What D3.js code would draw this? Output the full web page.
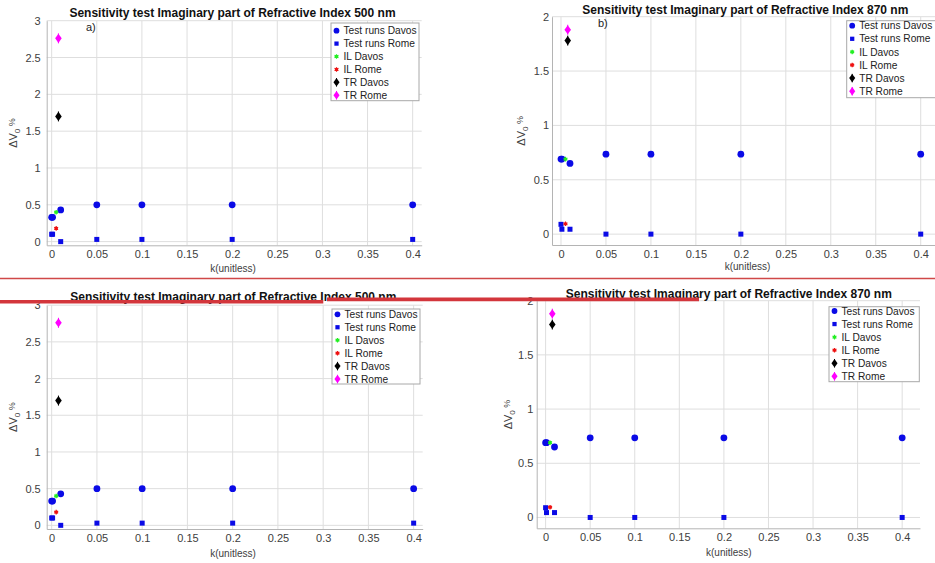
<!DOCTYPE html>
<html>
<head>
<meta charset="utf-8">
<script src="https://cdn.jsdelivr.net/npm/d3@7"></script>
<style>
body { margin: 0; background: #fff; }
text { font-family: "Liberation Sans", Arial, sans-serif; }
</style>
</head>
<body>
<script>
// k values of the test runs
var kRuns = [0, 0.001, 0.01, 0.05, 0.1, 0.2, 0.4];
var kIL = 0.005, kTR = 0.0075;

// 500 nm
var davos500 = [0.33, 0.33, 0.43, 0.50, 0.50, 0.50, 0.50];
var rome500 = [0.10, 0.10, 0.00, 0.03, 0.03, 0.03, 0.03];
var ilDavos500 = 0.40, ilRome500 = 0.18;
var trDavos500 = 1.70, trRome500 = 2.76;

// 870 nm
var davos870 = [0.69, 0.69, 0.65, 0.735, 0.735, 0.735, 0.735];
var rome870 = [0.09, 0.045, 0.045, 0.0, 0.0, 0.0, 0.0];
var ilDavos870 = 0.69, ilRome870 = 0.095;
var trDavos870 = 1.78, trRome870 = 1.88;

var legendNames = ["Test runs Davos", "Test runs Rome", "IL Davos", "IL Rome", "TR Davos", "TR Rome"];
var xTicks = [0, 0.05, 0.1, 0.15, 0.2, 0.25, 0.3, 0.35, 0.4];
var yTicks500 = [0, 0.5, 1, 1.5, 2, 2.5, 3];
var yTicks870 = [0, 0.5, 1, 1.5, 2];

var width = 935, height = 563;
var svg = d3.select('body').append('svg')
    .attr('width', width)
    .attr('height', height);

var blue = '#0a0ae6', green = '#22ee22', red = '#ee1111', magenta = '#ff00ff';

function marker(g, kind, x, y, small) {
    var s = small ? 0.85 : 1;
    if (kind == 'circle') {
        g.append('circle').attr('cx', x).attr('cy', y).attr('r', 3.4 * s).attr('fill', blue);
    } else if (kind == 'square') {
        g.append('rect').attr('x', x - 2.5 * s).attr('y', y - 2.5 * s)
            .attr('width', 5 * s).attr('height', 5 * s).attr('fill', blue);
    } else if (kind == 'ilD' || kind == 'ilR') {
        var c = kind == 'ilD' ? green : red;
        g.append('circle').attr('cx', x).attr('cy', y).attr('r', 1.6).attr('fill', c);
        g.append('path').attr('transform', 'translate(' + x + ',' + y + ')')
            .attr('d', d3.symbol().type(d3.symbolAsterisk).size(14)())
            .attr('stroke', c).attr('stroke-width', 1.2).attr('fill', 'none');
    } else {
        var c2 = kind == 'trD' ? '#000' : magenta;
        g.append('path').attr('transform', 'translate(' + x + ',' + y + ') scale(1.25,1)')
            .attr('d', d3.symbol().type(d3.symbolDiamond).size(24 * s)())
            .attr('fill', c2);
        g.append('line').attr('x1', x).attr('x2', x).attr('y1', y - 5 * s).attr('y2', y + 5 * s)
            .attr('stroke', c2).attr('stroke-width', 1);
    }
}

function drawPanel(p) {
    var xScale = d3.scaleLinear().domain(p.xDomain).range([p.left, p.right]);
    var yScale = d3.scaleLinear().domain(p.yDomain).range([p.bottom, p.top]);
    var g = svg.append('g');

    // grid
    g.selectAll('.gx').data(xTicks).enter().append('line')
        .attr('x1', function(d) { return xScale(d); })
        .attr('x2', function(d) { return xScale(d); })
        .attr('y1', p.top).attr('y2', p.bottom)
        .attr('stroke', '#dedede').attr('stroke-width', 1);
    g.selectAll('.gy').data(p.yTicks).enter().append('line')
        .attr('x1', p.left).attr('x2', p.right)
        .attr('y1', function(d) { return yScale(d); })
        .attr('y2', function(d) { return yScale(d); })
        .attr('stroke', '#dedede').attr('stroke-width', 1);

    // axes
    var xAxis = d3.axisBottom(xScale).tickValues(xTicks).tickSize(0).tickPadding(5)
        .tickFormat(function(d) { return String(d); });
    var yAxis = d3.axisLeft(yScale).tickValues(p.yTicks).tickSize(0).tickPadding(p.yPad)
        .tickFormat(function(d) { return String(d); });
    var gx = g.append('g').attr('transform', 'translate(0,' + p.bottom + ')').call(xAxis);
    var gy = g.append('g').attr('transform', 'translate(' + p.left + ',0)').call(yAxis);
    [gx, gy].forEach(function(a) {
        a.select('.domain').attr('stroke', '#b4b4b4');
        a.selectAll('text').attr('font-size', 11).attr('fill', '#404040')
            .attr('font-family', '"Liberation Sans", Arial, sans-serif');
    });

    // data
    var d = p.data;
    kRuns.forEach(function(k, i) { marker(g, 'circle', xScale(k), yScale(d.davos[i])); });
    kRuns.forEach(function(k, i) { marker(g, 'square', xScale(k), yScale(d.rome[i])); });
    marker(g, 'ilD', xScale(kIL), yScale(d.ilDavos));
    marker(g, 'ilR', xScale(kIL), yScale(d.ilRome));
    marker(g, 'trD', xScale(kTR), yScale(d.trDavos));
    marker(g, 'trR', xScale(kTR), yScale(d.trRome));

    // title and labels
    g.append('text').attr('x', p.titleX).attr('y', p.titleY)
        .attr('text-anchor', 'middle').attr('font-size', 12).attr('font-weight', 'bold')
        .attr('fill', '#111').text(p.title);
    g.append('text').attr('x', p.xLabelX).attr('y', p.xLabelY)
        .attr('text-anchor', 'middle').attr('font-size', 10).attr('fill', '#404040')
        .text('k(unitless)');
    var yl = g.append('text')
        .attr('transform', 'translate(' + p.yLabelX + ',' + (p.top + p.bottom) / 2 + ') rotate(-90)')
        .attr('text-anchor', 'middle').attr('font-size', 11).attr('fill', '#404040');
    yl.append('tspan').text('\u0394V');
    yl.append('tspan').attr('font-size', 8).attr('dy', 3).text('0');
    yl.append('tspan').attr('font-size', 9).attr('dy', -5).text(' %');
    if (p.tag) {
        g.append('text').attr('x', p.tagX).attr('y', p.tagY).attr('font-size', 11)
            .attr('fill', '#222').text(p.tag);
    }

    // legend
    var L = p.legend;
    g.append('rect').attr('x', L.x).attr('y', L.y).attr('width', L.w).attr('height', L.h)
        .attr('fill', '#fff').attr('stroke', '#a8a8a8').attr('stroke-width', 1);
    var kinds = ['circle', 'square', 'ilD', 'ilR', 'trD', 'trR'];
    legendNames.forEach(function(name, i) {
        var cy = L.first + i * L.step;
        marker(g, kinds[i], L.x + 5.5, cy, true);
        g.append('text').attr('x', L.x + 12.5).attr('y', cy + 3.6)
            .attr('font-size', 10.2).attr('fill', '#222').text(name);
    });
}

var set500 = { davos: davos500, rome: rome500, ilDavos: ilDavos500, ilRome: ilRome500, trDavos: trDavos500, trRome: trRome500 };
var set870 = { davos: davos870, rome: rome870, ilDavos: ilDavos870, ilRome: ilRome870, trDavos: trDavos870, trRome: trRome870 };

var panels = [
    { left: 46.7, right: 421.7, top: 20.7, bottom: 245.3, xDomain: [-0.0055, 0.41], yDomain: [-0.05, 3],
      yTicks: yTicks500, yPad: 6, data: set500,
      title: 'Sensitivity test Imaginary part of Refractive Index 500 nm', titleX: 232.5, titleY: 17,
      xLabelX: 233, xLabelY: 271.5, yLabelX: 17, tag: 'a)', tagX: 86, tagY: 31,
      legend: { x: 331, y: 23, w: 88, h: 77.7, first: 30.7, step: 12.9 } },
    { left: 552, right: 938.7, top: 16.7, bottom: 245, xDomain: [-0.01, 0.42], yDomain: [-0.1, 2],
      yTicks: yTicks870, yPad: 3, data: set870,
      title: 'Sensitivity test Imaginary part of Refractive Index 870 nm', titleX: 745.3, titleY: 14,
      xLabelX: 747.5, xLabelY: 270, yLabelX: 525, tag: 'b)', tagX: 598, tagY: 27,
      legend: { x: 846.7, y: 20.7, w: 95, h: 77, first: 25.7, step: 13.1 } },
    { left: 46.7, right: 422.7, top: 305.2, bottom: 529, xDomain: [-0.0055, 0.41], yDomain: [-0.05, 3],
      yTicks: yTicks500, yPad: 6, data: set500,
      title: 'Sensitivity test Imaginary part of Refractive Index 500 nm', titleX: 233.3, titleY: 301,
      xLabelX: 233, xLabelY: 557, yLabelX: 17,
      legend: { x: 332, y: 309, w: 88, h: 75, first: 314.3, step: 12.95 } },
    { left: 536.7, right: 920, top: 300.7, bottom: 528.3, xDomain: [-0.01, 0.42], yDomain: [-0.1, 2],
      yTicks: yTicks870, yPad: 3.4, data: set870,
      title: 'Sensitivity test Imaginary part of Refractive Index 870 nm', titleX: 728.8, titleY: 298,
      xLabelX: 728.8, xLabelY: 556, yLabelX: 512,
      legend: { x: 829, y: 306.7, w: 90.3, h: 75, first: 311, step: 13.06 } }
];

panels.forEach(drawPanel);

// red annotation lines drawn over the screenshot
svg.append('line').attr('x1', 0).attr('x2', width).attr('y1', 278.5).attr('y2', 278.5)
    .attr('stroke', '#d04848').attr('stroke-width', 1.3);
svg.append('line').attr('x1', 0).attr('x2', 323.3).attr('y1', 301.8).attr('y2', 301.8)
    .attr('stroke', '#d3363c').attr('stroke-width', 3.6);
svg.append('line').attr('x1', 327).attr('x2', 699).attr('y1', 299.4).attr('y2', 299.4)
    .attr('stroke', '#d3363c').attr('stroke-width', 3.6);
</script>
</body>
</html>
